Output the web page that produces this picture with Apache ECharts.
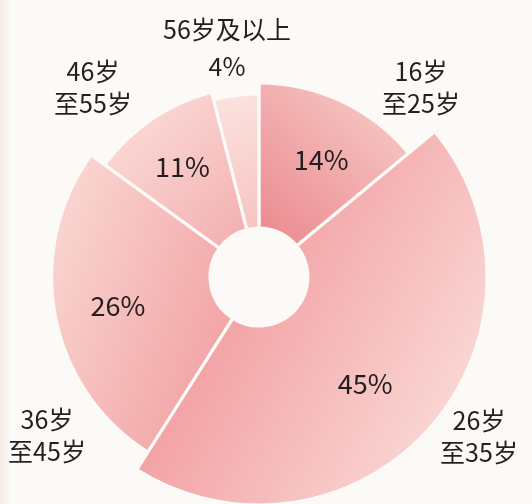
<!DOCTYPE html>
<html>
<head>
<meta charset="utf-8">
<script src="https://cdn.jsdelivr.net/npm/echarts@6/dist/echarts.min.js"></script>
<style>
html, body { margin: 0; padding: 0; }
body { background: linear-gradient(to right, #f6ede7 0, #fcfaf7 12px, #fcfaf7 100%); }
#chart { width: 532px; height: 504px; }
</style>
</head>
<body>
<div id="chart"></div>
<script>
// 年龄段 / 占比(%)
const categories = ['16岁\n至25岁', '26岁\n至35岁', '36岁\n至45岁', '46岁\n至55岁', '56岁及以上']
const shares = [14, 45, 26, 11, 4]

const CENTER = [259, 277]
const BG = '#fcfaf7'
const FONT = '"Noto Sans CJK SC", "Noto Sans", sans-serif'
const TEXT_COLOR = '#231f20'

function grad(x, y, x2, y2, c1, c2) {
  return new echarts.graphic.LinearGradient(x, y, x2, y2, [
    { offset: 0, color: c1 },
    { offset: 1, color: c2 }
  ], true)
}

// each slice shades from darker near the hole to lighter at the rim
const sliceFills = [
  grad(265, 265, 420, 95, '#ea848a', '#f8d0cc'),
  grad(170, 330, 440, 480, '#f29a9e', '#fadbd7'),
  grad(235, 330, 50, 260, '#f2a3a5', '#f9d3ce'),
  grad(235, 245, 120, 120, '#f3b0b0', '#fadbd7'),
  grad(250, 235, 230, 95, '#f6c3c1', '#fbe2de')
]

// nudges for the share labels, and where the age-group names sit
const shareNudge = [[2, 11], [0, 13], [-2, 2], [3, 7], [0, 0]]
const namePos = [[421, 87], [479, 436], [47, 435], [93, 87], [227, 48]]

const chart = echarts.init(document.getElementById('chart'), null, { renderer: 'canvas' })

const sliceData = shares.map((v, i) => ({
  name: categories[i],
  value: v,
  itemStyle: { color: sliceFills[i] }
}))

const basePie = {
  type: 'pie',
  center: CENTER,
  startAngle: 90,
  clockwise: true,
  silent: true,
  animation: false,
  label: { show: false },
  labelLine: { show: false },
  emphasis: { disabled: true }
}

chart.setOption({
  backgroundColor: 'transparent',
  series: [
    // body of the ring
    Object.assign({}, basePie, {
      radius: [49, 178],
      data: sliceData
    }),
    // outer band: rim grows with the share
    Object.assign({}, basePie, {
      radius: [177, 227],
      roseType: 'radius',
      data: sliceData
    }),
    // gaps between slices + share labels
    Object.assign({}, basePie, {
      radius: [49, 228],
      z: 5,
      itemStyle: { color: 'rgba(0,0,0,0)', borderColor: BG, borderWidth: 3 },
      label: {
        show: true,
        position: 'inside',
        formatter: '{c}%',
        fontSize: 27,
        fontFamily: FONT,
        color: TEXT_COLOR
      },
      data: shares.map((v, i) => ({
        name: categories[i],
        value: v,
        label: { show: i !== 4, offset: shareNudge[i] }
      }))
    })
  ],
  graphic: categories.map((name, i) => ({
    type: 'text',
    x: namePos[i][0],
    y: namePos[i][1],
    z: 10,
    style: {
      text: i === 4 ? name + '\n' + shares[i] + '%' : name,
      fill: TEXT_COLOR,
      fontSize: 25,
      fontFamily: FONT,
      lineHeight: i === 4 ? 37 : 32,
      align: 'center',
      verticalAlign: 'middle'
    }
  }))
})
</script>
</body>
</html>
